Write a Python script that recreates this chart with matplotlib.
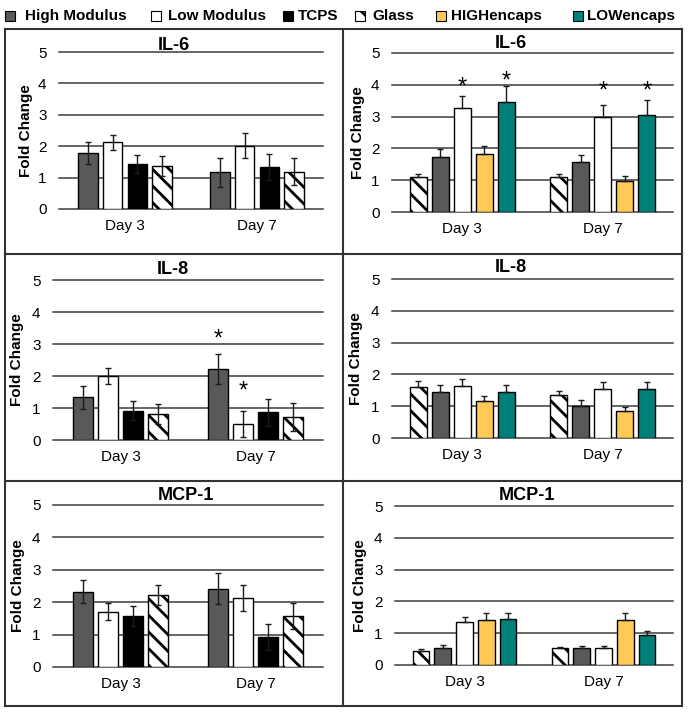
import numpy as np
import matplotlib
import matplotlib.pyplot as plt
from matplotlib.patches import Rectangle
from matplotlib.lines import Line2D

matplotlib.use("Agg")

plt.rcParams["font.family"] = ["Liberation Sans", "DejaVu Sans"]
plt.rcParams["hatch.linewidth"] = 2.0

# Categories and series
days = ["Day 3", "Day 7"]
cell_series = ["High Modulus", "Low Modulus", "TCPS", "Glass"]
encaps_series = ["Glass", "High Modulus", "Low Modulus", "HIGHencaps", "LOWencaps"]
legend_order = ["High Modulus", "Low Modulus", "TCPS", "Glass", "HIGHencaps", "LOWencaps"]

# IL-6 fold change (mean, error)
il6_cells = {"High Modulus": [1.78, 1.17], "Low Modulus": [2.12, 2.01],
             "TCPS": [1.44, 1.33], "Glass": [1.37, 1.19]}
il6_cells_err = {"High Modulus": [0.35, 0.47], "Low Modulus": [0.25, 0.40],
                 "TCPS": [0.29, 0.41], "Glass": [0.33, 0.43]}
il6_encaps = {"Glass": [1.09, 1.09], "High Modulus": [1.72, 1.56], "Low Modulus": [3.26, 2.99],
              "HIGHencaps": [1.82, 0.99], "LOWencaps": [3.46, 3.06]}
il6_encaps_err = {"Glass": [0.09, 0.10], "High Modulus": [0.27, 0.24], "Low Modulus": [0.40, 0.36],
                  "HIGHencaps": [0.26, 0.15], "LOWencaps": [0.51, 0.46]}

# IL-8 fold change
il8_cells = {"High Modulus": [1.33, 2.22], "Low Modulus": [2.00, 0.50],
             "TCPS": [0.92, 0.86], "Glass": [0.81, 0.72]}
il8_cells_err = {"High Modulus": [0.37, 0.46], "Low Modulus": [0.24, 0.40],
                 "TCPS": [0.30, 0.41], "Glass": [0.31, 0.43]}
il8_encaps = {"Glass": [1.60, 1.34], "High Modulus": [1.45, 1.02], "Low Modulus": [1.62, 1.55],
              "HIGHencaps": [1.15, 0.84], "LOWencaps": [1.45, 1.54]}
il8_encaps_err = {"Glass": [0.18, 0.15], "High Modulus": [0.23, 0.16], "Low Modulus": [0.23, 0.21],
                  "HIGHencaps": [0.18, 0.15], "LOWencaps": [0.22, 0.23]}

# MCP-1 fold change
mcp1_cells = {"High Modulus": [2.32, 2.42], "Low Modulus": [1.70, 2.13],
              "TCPS": [1.58, 0.93], "Glass": [2.22, 1.58]}
mcp1_cells_err = {"High Modulus": [0.36, 0.47], "Low Modulus": [0.26, 0.40],
                  "TCPS": [0.30, 0.39], "Glass": [0.31, 0.41]}
mcp1_encaps = {"Glass": [0.44, 0.52], "High Modulus": [0.54, 0.52], "Low Modulus": [1.34, 0.54],
               "HIGHencaps": [1.41, 1.43], "LOWencaps": [1.44, 0.94]}
mcp1_encaps_err = {"Glass": [0.05, 0.06], "High Modulus": [0.08, 0.08], "Low Modulus": [0.18, 0.05],
                   "HIGHencaps": [0.21, 0.22], "LOWencaps": [0.21, 0.14]}

# significance stars: (series, day index, height)
il6_encaps_stars = [("Low Modulus", 0, 3.90), ("LOWencaps", 0, 4.10),
                    ("Low Modulus", 1, 3.79), ("LOWencaps", 1, 3.79)]
il8_cells_stars = [("High Modulus", 1, 3.13), ("Low Modulus", 1, 1.51)]

y_ticks = [0, 1, 2, 3, 4, 5]

# styles
styles = {
    "High Modulus": dict(color="#595959", hatch=None),
    "Low Modulus": dict(color="white", hatch=None),
    "TCPS": dict(color="black", hatch=None),
    "Glass": dict(color="white", hatch="\\\\"),
    "HIGHencaps": dict(color="#FFC957", hatch=None),
    "LOWencaps": dict(color="#00807B", hatch=None),
}

W, H = 691, 713
fig = plt.figure(figsize=(W / 100, H / 100), dpi=100)


def rect(x0, x1, ytop, ybot):
    return [x0 / W, 1 - ybot / H, (x1 - x0) / W, (ybot - ytop) / H]


panels = [
    # data, err, order, both-sided err, stars, title, axes px, title px, ylabel x
    (il6_cells, il6_cells_err, cell_series, True, [], "IL-6", (59, 323, 52, 209), (174, 45), 26),
    (il6_encaps, il6_encaps_err, encaps_series, False, il6_encaps_stars, "IL-6", (392, 673, 53, 212), (511, 43), 358),
    (il8_cells, il8_cells_err, cell_series, True, il8_cells_stars, "IL-8", (53, 323, 280, 440), (173, 270), 17),
    (il8_encaps, il8_encaps_err, encaps_series, False, [], "IL-8", (392, 673, 279, 438), (511, 268), 356),
    (mcp1_cells, mcp1_cells_err, cell_series, True, [], "MCP-1", (53, 323, 505, 667), (186, 495), 18),
    (mcp1_encaps, mcp1_encaps_err, encaps_series, False, [], "MCP-1", (395, 673, 506, 665), (527, 495), 360),
]

x = np.arange(len(days))
for data, err, order, both, stars, title, box, tpos, ylx in panels:
    ax = fig.add_axes(rect(*box))
    n = len(order)
    if n == 4:
        step, width = 0.186, 0.148
    else:
        step, width = 0.157, 0.12
    offsets = (np.arange(n) - (n - 1) / 2) * step
    for off, name in zip(offsets, order):
        st = styles[name]
        e = np.array(err[name])
        yerr = e if both else [np.zeros_like(e), e]
        ax.bar(x + off, data[name], width, color=st["color"], hatch=st["hatch"],
               edgecolor="black", linewidth=1.0, zorder=3)
        ax.errorbar(x + off, data[name], yerr=yerr, fmt="none", ecolor="#1a1a1a",
                    elinewidth=1.0, capsize=2.5, capthick=1.0, zorder=4)
    for name, d, ys in stars:
        i = order.index(name)
        ax.text(x[d] + offsets[i], ys, "*", ha="center", va="center",
                fontsize=17, zorder=5)
    for v in y_ticks:
        ax.axhline(v, color="#3c3c3c", linewidth=1.1, zorder=1, clip_on=False)
    ax.set_xlim(-0.5, 1.5)
    ax.set_ylim(0, 5)
    ax.set_yticks(y_ticks)
    ax.set_xticks(x)
    ax.set_xticklabels(days)
    ax.tick_params(length=0, labelsize=11)
    ax.tick_params(axis="y", pad=9)
    ax.tick_params(axis="x", pad=7)
    for s in ax.spines.values():
        s.set_visible(False)
    ax.patch.set_alpha(0)
    fig.text(tpos[0] / W, 1 - tpos[1] / H, title, ha="center", va="center",
             fontsize=13, fontweight="bold")
    fig.text(ylx / W, 1 - ((box[2] + box[3]) / 2) / H, "Fold Change", rotation=90,
             ha="center", va="center", fontsize=11, fontweight="bold")

# panel borders
bc = "#333333"
xs = [5, 343, 682]
ys = [29, 254, 481, 706]
for xv in xs:
    fig.add_artist(Line2D([xv / W, xv / W], [1 - ys[0] / H, 1 - ys[-1] / H], color=bc, linewidth=1.5))
for yv in ys:
    fig.add_artist(Line2D([xs[0] / W, xs[-1] / W], [1 - yv / H, 1 - yv / H], color=bc, linewidth=1.5))

# legend
patch_x = [5, 151, 283, 355, 436, 573]
text_x = [25, 168, 298, 372, 451, 587]
ly = 16
for name, px, tx in zip(legend_order, patch_x, text_x):
    st = styles[name]
    fig.add_artist(Rectangle((px / W, 1 - (ly + 5) / H), 10 / W, 10 / H,
                             facecolor=st["color"], hatch=st["hatch"], edgecolor="black",
                             linewidth=0.8, transform=fig.transFigure))
    fig.text(tx / W, 1 - ly / H, name, ha="left", va="center", fontsize=11, fontweight="bold")

fig.savefig("out.png", dpi=100)
